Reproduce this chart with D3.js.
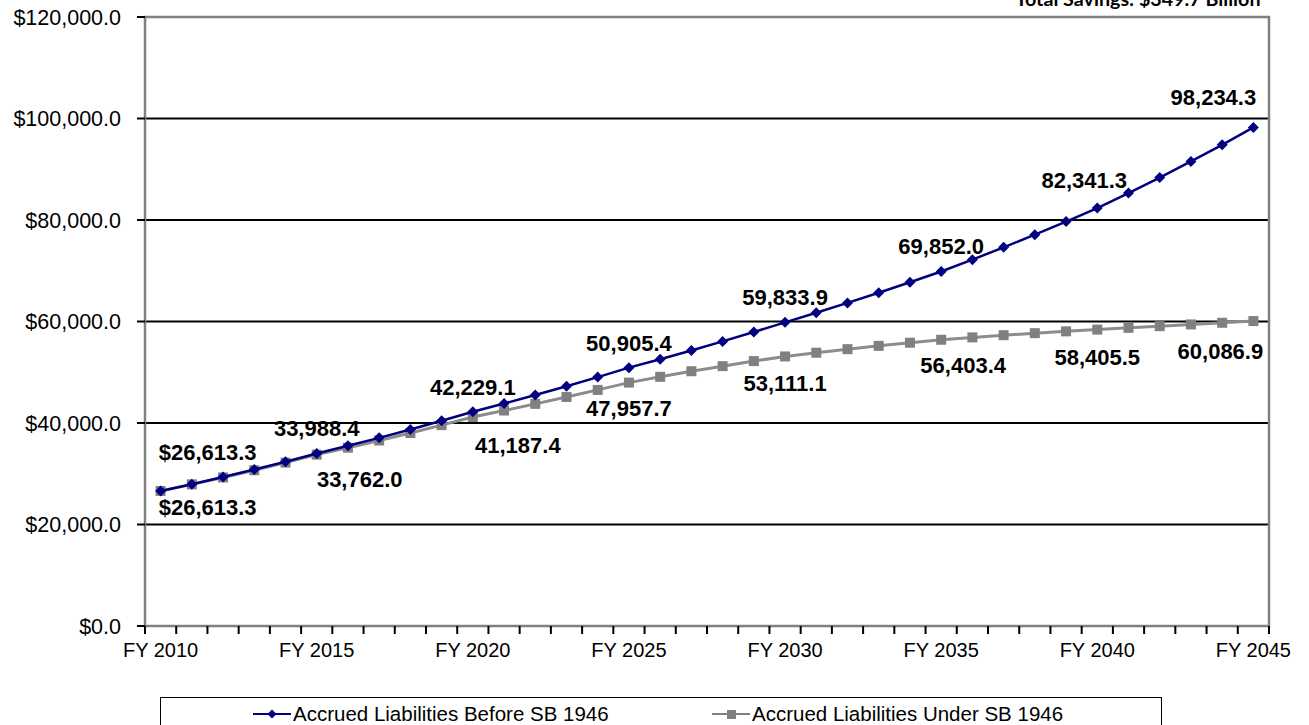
<!DOCTYPE html>
<meta charset="utf-8">
<style>
  body { margin: 0; background: #fff; }
  svg { display: block; }
  .ylab, .xlab { font-family: "Liberation Sans", Arial, sans-serif; fill: #000; }
  .dlab { font-family: "Liberation Sans", Arial, sans-serif; font-weight: bold; fill: #000; }
</style>
<div class="chart"></div>
<script src="https://cdn.jsdelivr.net/npm/d3@7"></script>
<script>
  // fiscal years on the category axis
  var years = d3.range(2010, 2046).map(function(y) { return "FY " + y; });

  // accrued liabilities ($ millions), before SB 1946
  var beforeVals = [26613.3, 27950, 29350, 30820, 32370, 33988.4,
                    35500, 37070, 38720, 40440, 42229.1,
                    43840, 45510, 47240, 49040, 50905.4,
                    52570, 54300, 56080, 57920, 59833.9,
                    61720, 63660, 65670, 67730, 69852.0,
                    72190, 74610, 77110, 79690, 82341.3,
                    85300, 88360, 91530, 94820, 98234.3];

  // accrued liabilities ($ millions), under SB 1946
  var underVals = [26613.3, 27910, 29270, 30690, 32190, 33762.0,
                   35130, 36550, 38030, 39580, 41187.4,
                   42460, 43770, 45130, 46520, 47957.7,
                   49100, 50200, 51200, 52200, 53111.1,
                   53850, 54550, 55200, 55820, 56403.4,
                   56870, 57300, 57700, 58060, 58405.5,
                   58750, 59080, 59420, 59750, 60086.9];

  var seriesNames = ["Accrued Liabilities Before SB 1946", "Accrued Liabilities Under SB 1946"];
  var yTicks = [0, 20000, 40000, 60000, 80000, 100000, 120000];
  var titleText = "Total Savings: $349.7 Billion";

  // label nudges (px) for every 5th point: [dx, dy]
  var beforeOffsets = [[47, -39], [0, -25], [0, -25], [0, -25], [0, -25], [0, -25], [-13, -28], [-40, -30]];
  var underOffsets  = [[47, 16], [43, 24], [45, 28], [0, 25], [0, 27], [22, 25], [0, 27], [-33, 30]];

  var W = 1309, H = 725;
  var plot = {left: 145, right: 1269, top: 17, bottom: 626};

  var svg = d3.select(".chart").append("svg").attr("width", W).attr("height", H);

  var x = d3.scaleBand().domain(years).range([plot.left, plot.right]).padding(0);
  var y = d3.scaleLinear().domain([0, 120000]).range([plot.bottom, plot.top]);
  var cx = function(i) { return x(years[i]) + x.bandwidth() / 2; };

  // gridlines
  svg.append("g").selectAll("line")
    .data(yTicks.filter(function(t) { return t > 0 && t < 120000; }))
    .enter().append("line")
    .attr("x1", plot.left).attr("x2", plot.right)
    .attr("y1", function(d) { return y(d); }).attr("y2", function(d) { return y(d); })
    .attr("stroke", "#000").attr("stroke-width", 2);

  // plot border (grey)
  svg.append("rect")
    .attr("x", plot.left).attr("y", plot.top)
    .attr("width", plot.right - plot.left).attr("height", plot.bottom - plot.top)
    .attr("fill", "none").attr("stroke", "#808080").attr("stroke-width", 2.5);

  // y axis ticks + labels
  var yAxis = svg.append("g");
  yAxis.selectAll("line").data(yTicks).enter().append("line")
    .attr("x1", plot.left - 8).attr("x2", plot.left)
    .attr("y1", function(d) { return y(d); }).attr("y2", function(d) { return y(d); })
    .attr("stroke", "#000").attr("stroke-width", 2);
  yAxis.selectAll("text").data(yTicks).enter().append("text")
    .attr("class", "ylab")
    .attr("x", plot.left - 24).attr("y", function(d) { return y(d); })
    .attr("dy", "0.36em").attr("text-anchor", "end").attr("font-size", 21.5)
    .text(function(d) { return "$" + d3.format(",.1f")(d); });

  // x axis ticks at category boundaries
  var bounds = years.map(function(d) { return x(d); }).concat([plot.right]);
  svg.append("g").selectAll("line").data(bounds).enter().append("line")
    .attr("x1", function(d) { return d; }).attr("x2", function(d) { return d; })
    .attr("y1", plot.bottom).attr("y2", plot.bottom + 8)
    .attr("stroke", "#000").attr("stroke-width", 2);
  svg.append("g").selectAll("text")
    .data(years.filter(function(d, i) { return i % 5 === 0; }))
    .enter().append("text")
    .attr("class", "xlab")
    .attr("x", function(d) { return x(d) + x.bandwidth() / 2; })
    .attr("y", plot.bottom + 31)
    .attr("text-anchor", "middle").attr("font-size", 20)
    .text(function(d) { return d; });

  var line = d3.line().x(function(d, i) { return cx(i); }).y(function(d) { return y(d); });

  // under series (grey squares)
  svg.append("path").datum(underVals).attr("d", line)
    .attr("fill", "none").attr("stroke", "#8c8c8c").attr("stroke-width", 3);
  svg.append("g").selectAll("rect").data(underVals).enter().append("rect")
    .attr("x", function(d, i) { return cx(i) - 5; }).attr("y", function(d) { return y(d) - 5; })
    .attr("width", 10).attr("height", 10).attr("fill", "#808080");

  // before series (navy diamonds)
  var diamond = "M0,-5.5L5.5,0L0,5.5L-5.5,0Z";
  svg.append("path").datum(beforeVals).attr("d", line)
    .attr("fill", "none").attr("stroke", "#000080").attr("stroke-width", 2.5);
  svg.append("g").selectAll("path").data(beforeVals).enter().append("path")
    .attr("d", diamond)
    .attr("transform", function(d, i) { return "translate(" + cx(i) + "," + y(d) + ")"; })
    .attr("fill", "#000080");

  // data labels every 5 years
  function addLabels(vals, offs) {
    var idx = d3.range(0, vals.length, 5);
    svg.append("g").selectAll("text").data(idx).enter().append("text")
      .attr("class", "dlab")
      .attr("x", function(i, k) { return cx(i) + offs[k][0]; })
      .attr("y", function(i, k) { return y(vals[i]) + offs[k][1]; })
      .attr("dy", "0.36em").attr("text-anchor", "middle").attr("font-size", 22)
      .text(function(i) { return (i === 0 ? "$" : "") + d3.format(",.1f")(vals[i]); });
  }
  addLabels(beforeVals, beforeOffsets);
  addLabels(underVals, underOffsets);

  // title, clipped at top of image as in the source
  svg.append("text")
    .attr("x", 1138).attr("y", 6)
    .attr("text-anchor", "middle")
    .attr("font-family", "Lato, 'Open Sans', sans-serif").attr("font-weight", "bold")
    .attr("font-size", 19).attr("textLength", 245).attr("lengthAdjust", "spacingAndGlyphs")
    .text(titleText);

  // legend
  var leg = svg.append("g");
  leg.append("rect").attr("x", 160.5).attr("y", 697.5).attr("width", 1001).attr("height", 40)
    .attr("fill", "#fff").attr("stroke", "#000").attr("stroke-width", 1);
  var legItems = [
    {name: seriesNames[0], x0: 253, color: "#000080", mark: "diamond"},
    {name: seriesNames[1], x0: 712, color: "#808080", mark: "square"}
  ];
  legItems.forEach(function(it) {
    leg.append("line").attr("x1", it.x0).attr("x2", it.x0 + 38).attr("y1", 714).attr("y2", 714)
      .attr("stroke", it.color).attr("stroke-width", 2);
    if (it.mark === "diamond") {
      leg.append("path").attr("d", "M0,-4.5L4.5,0L0,4.5L-4.5,0Z")
        .attr("transform", "translate(" + (it.x0 + 19) + ",714)").attr("fill", it.color);
    } else {
      leg.append("rect").attr("x", it.x0 + 15).attr("y", 710).attr("width", 9).attr("height", 9)
        .attr("fill", it.color);
    }
    leg.append("text").attr("x", it.x0 + 40).attr("y", 714).attr("dy", "0.36em")
      .attr("font-family", "'Liberation Sans', Arial, sans-serif").attr("font-size", 20.5)
      .text(it.name);
  });
</script>
